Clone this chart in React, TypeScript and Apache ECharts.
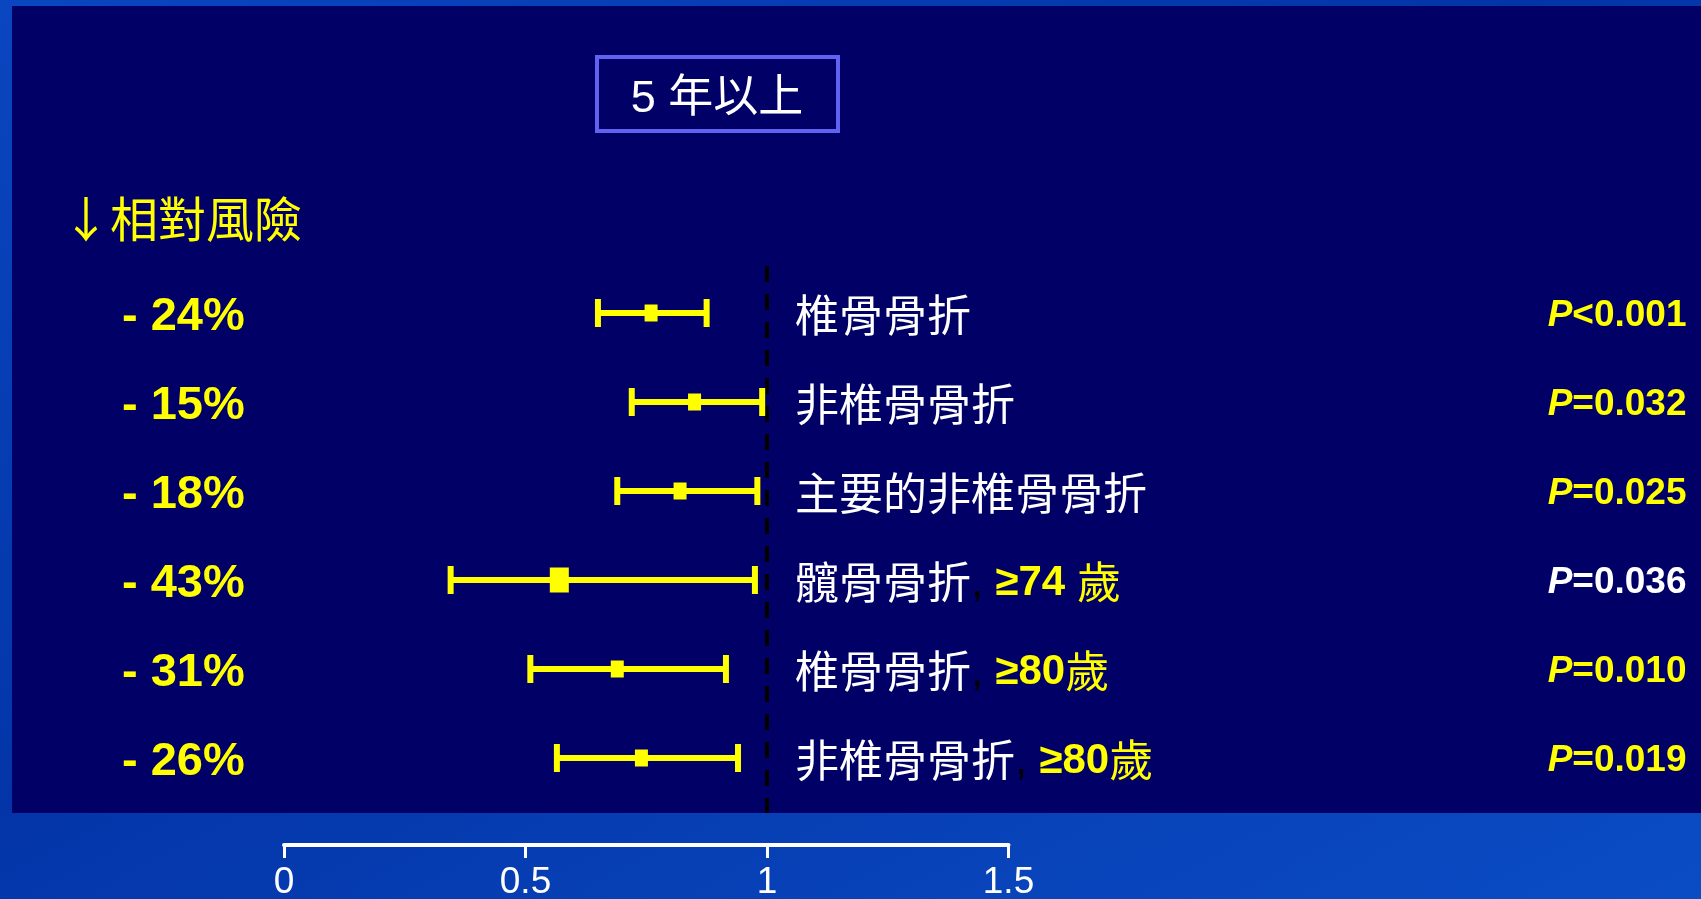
import React, { useEffect, useRef } from 'react';
import * as echarts from 'echarts';

// Outcomes, top to bottom
const outcomes = ['椎骨骨折', '非椎骨骨折', '主要的非椎骨骨折', '髖骨骨折', '椎骨骨折', '非椎骨骨折'];
// Age qualifier appended after the outcome name ('' = all ages)
const ageGroups = ['', '', '', '≥74 ', '≥80', '≥80'];
// Relative risk reduction, percent
const riskReduction = [-24, -15, -18, -43, -31, -26];
// 95% confidence interval of the relative risk
const ciLower = [0.65, 0.72, 0.69, 0.345, 0.51, 0.565];
const ciUpper = [0.875, 0.99, 0.98, 0.975, 0.915, 0.94];
// P values
const pValues = ['<0.001', '=0.032', '=0.025', '=0.036', '=0.010', '=0.019'];
// Relative-risk axis
const axisMin = 0;
const axisMax = 1.5;
const axisStep = 0.5;
const nullValue = 1;

const panelTitle = '5 年以上';
const sideTitle = '↓相對風險';

const LATIN = "'Liberation Sans', Arial, sans-serif";
const CJK = "'Noto Sans CJK TC', 'Noto Sans CJK SC', sans-serif";
const YELLOW = '#FFFF00';
const NAVY = '#000066';
const HIGHLIGHT_ROW = 3;

export default function App() {
  const ref = useRef<HTMLDivElement>(null);

  useEffect(() => {
    const chart = echarts.init(ref.current!, null, { renderer: 'svg' });
    const rows = outcomes.map((_, i) => i);
    const relativeRisk = riskReduction.map((r) => 1 + r / 100);
    const seriesData = rows.map((i) => [i, ciLower[i], ciUpper[i], relativeRisk[i]]);
    const reductionLabels = riskReduction.map((r) => `- ${Math.abs(r)}%`);

    chart.setOption({
      animation: false,
      graphic: [
        {
          id: 'backdrop',
          type: 'rect',
          z: -20,
          shape: { x: 0, y: 0, width: 1701, height: 899 },
          style: {
            fill: new echarts.graphic.LinearGradient(0, 0, 1, 1, [
              { offset: 0, color: '#0a46c0' },
              { offset: 0.45, color: '#0335a8' },
              { offset: 0.75, color: '#0842b8' },
              { offset: 1, color: '#0a4cc4' },
            ]),
          },
        },
        {
          id: 'panel',
          type: 'rect',
          z: -10,
          shape: { x: 12, y: 6, width: 1689, height: 807 },
          style: { fill: NAVY },
        },
        {
          id: 'titleBox',
          type: 'rect',
          z: 5,
          shape: { x: 597, y: 57, width: 241, height: 74 },
          style: { fill: 'none', stroke: '#6262F2', lineWidth: 4 },
        },
        {
          id: 'titleText',
          type: 'text',
          z: 5,
          x: 717,
          y: 96,
          style: {
            text: panelTitle,
            fill: '#FFFFFF',
            font: `45px 'Liberation Sans', ${CJK}`,
            align: 'center',
            verticalAlign: 'middle',
          },
        },
        {
          id: 'sideTitle',
          type: 'text',
          z: 5,
          x: 62,
          y: 216,
          style: {
            text: sideTitle,
            fill: YELLOW,
            font: `48px ${CJK}`,
            align: 'left',
            verticalAlign: 'middle',
          },
        },
      ],
      grid: { left: 284, width: 724.5, top: 268.5, height: 534, containLabel: false },
      xAxis: {
        type: 'value',
        min: axisMin,
        max: axisMax,
        interval: axisStep,
        position: 'bottom',
        offset: 42.5,
        splitLine: { show: false },
        axisLine: { show: true, lineStyle: { color: '#FFFFFF', width: 4 } },
        axisTick: { show: true, length: 13, lineStyle: { color: '#FFFFFF', width: 3 } },
        axisLabel: {
          color: '#FFFFFF',
          fontSize: 37,
          lineHeight: 30,
          fontFamily: LATIN,
          margin: 20,
          formatter: (v: number) => String(v),
        },
      },
      yAxis: [
        {
          type: 'category',
          data: reductionLabels,
          inverse: true,
          position: 'left',
          axisLine: { show: false },
          axisTick: { show: false },
          splitLine: { show: false },
          axisLabel: {
            align: 'left',
            margin: 162,
            color: YELLOW,
            fontSize: 47,
            fontWeight: 'bold',
            fontFamily: LATIN,
          },
        },
        {
          type: 'category',
          data: outcomes,
          inverse: true,
          position: 'right',
          offset: -213.5,
          axisLine: { show: false },
          axisTick: { show: false },
          splitLine: { show: false },
          axisLabel: {
            margin: 0,
            align: 'left',
            formatter: (value: string, idx: number) => {
              const age = ageGroups[idx];
              if (!age) return `{n|${value}}`;
              return `{n|${value}}{k|, }{a|${age}}{y|歲}`;
            },
            rich: {
              n: { color: '#FFFFFF', fontSize: 44, fontFamily: CJK },
              k: { color: '#000000', fontSize: 44, fontFamily: LATIN },
              a: { color: YELLOW, fontSize: 42, fontWeight: 'bold', fontFamily: LATIN },
              y: { color: YELLOW, fontSize: 44, fontFamily: CJK },
            },
          },
        },
        {
          type: 'category',
          data: pValues,
          inverse: true,
          position: 'right',
          offset: 678,
          axisLine: { show: false },
          axisTick: { show: false },
          splitLine: { show: false },
          axisLabel: {
            inside: true,
            margin: 0,
            formatter: (value: string, idx: number) =>
              idx === HIGHLIGHT_ROW ? `{pw|P}{vw|${value}}` : `{p|P}{v|${value}}`,
            rich: {
              p: { color: YELLOW, fontSize: 37, fontWeight: 'bold', fontStyle: 'italic', fontFamily: LATIN },
              v: { color: YELLOW, fontSize: 37, fontWeight: 'bold', fontFamily: LATIN },
              pw: { color: '#FFFFFF', fontSize: 37, fontWeight: 'bold', fontStyle: 'italic', fontFamily: LATIN },
              vw: { color: '#FFFFFF', fontSize: 37, fontWeight: 'bold', fontFamily: LATIN },
            },
          },
        },
      ],
      series: [
        {
          type: 'custom',
          xAxisIndex: 0,
          yAxisIndex: 0,
          z: 3,
          encode: { x: [1, 2, 3], y: 0 },
          data: seriesData,
          renderItem: (params: any, api: any) => {
            const row = api.value(0);
            const lo = api.coord([api.value(1), row]);
            const hi = api.coord([api.value(2), row]);
            const mid = api.coord([api.value(3), row]);
            const big = params.dataIndex === HIGHLIGHT_ROW;
            const line = 6;
            const cap = 28;
            const mw = big ? 19 : 13;
            const mh = big ? 25 : 17;
            const style = { fill: YELLOW };
            return {
              type: 'group',
              children: [
                { type: 'rect', shape: { x: lo[0], y: lo[1] - line / 2, width: hi[0] - lo[0], height: line }, style },
                { type: 'rect', shape: { x: lo[0] - 3, y: lo[1] - cap / 2, width: 6, height: cap }, style },
                { type: 'rect', shape: { x: hi[0] - 3, y: hi[1] - cap / 2, width: 6, height: cap }, style },
                { type: 'rect', shape: { x: mid[0] - mw / 2, y: mid[1] - mh / 2, width: mw, height: mh }, style },
              ],
            };
          },
        },
      ],
    });

    // Dashed reference line at relative risk = 1, placed through the x scale
    const xNull = chart.convertToPixel({ xAxisIndex: 0 }, nullValue) as number;
    chart.setOption({
      graphic: [
        {
          id: 'nullLine',
          type: 'line',
          z: 1,
          shape: { x1: xNull, y1: 266, x2: xNull, y2: 813 },
          style: { stroke: '#000000', lineWidth: 4, lineDash: [16, 12] },
        },
      ],
    });

    return () => chart.dispose();
  }, []);

  return (
    <div
      ref={ref}
      style={{ position: 'fixed', left: 0, top: 0, width: 1701, height: 899 }}
    />
  );
}
